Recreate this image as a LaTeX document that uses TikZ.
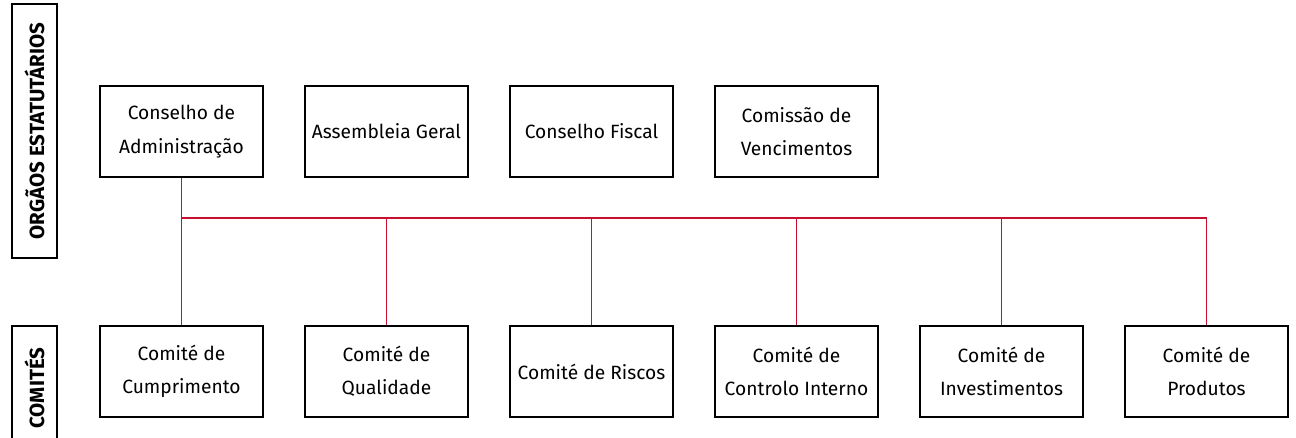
\documentclass[tikz,border=0pt]{standalone}
\usepackage{fontspec}
\setmainfont{Fira Sans}
\definecolor{linered}{HTML}{C8102E}
\begin{document}
\begin{tikzpicture}[x=1pt,y=-1pt,
  orgbox/.style={draw=black,line width=1.3pt,minimum width=163pt,minimum height=91pt,align=center,font=\fontsize{19.2}{33.5}\selectfont,inner sep=0pt},
  sidebox/.style={draw=black,line width=1.3pt},
  sidetext/.style={rotate=90,font=\bfseries\fontsize{20.5}{22}\selectfont},
  conn/.style={draw=linered,line width=1.6pt}]
\useasboundingbox (0,0) rectangle (1296,438);
\clip (0,0) rectangle (1296,438);
% side labels
\draw[sidebox] (12,4) rectangle (57,258);
\node[sidetext] (lab1) at (34.5,131) {ORGÃOS ESTATUTÁRIOS};
\draw[sidebox] (12,326) rectangle (57,450);
\node[sidetext] (lab2) at (34.5,388) {COMITÉS};
% top row
\node[orgbox] (ca) at (181.5,131.5) {Conselho de\\Administração};
\node[orgbox] (ag) at (386.5,131.5) {Assembleia Geral};
\node[orgbox] (cf) at (591.5,131.5) {Conselho Fiscal};
\node[orgbox] (cv) at (796.5,131.5) {Comissão de\\Vencimentos};
% bottom row
\node[orgbox] (c1) at (181.5,371.5) {Comité de\\Cumprimento};
\node[orgbox] (c2) at (386.5,371.5) {Comité de\\Qualidade};
\node[orgbox] (c3) at (591.5,371.5) {Comité de Riscos};
\node[orgbox] (c4) at (796.5,371.5) {Comité de\\Controlo Interno};
\node[orgbox] (c5) at (1001.5,371.5) {Comité de\\Investimentos};
\node[orgbox] (c6) at (1206.5,371.5) {Comité de\\Produtos};
% connectors
\coordinate (bus) at (0,218);
\begin{scope}[xshift=0.5pt]
\draw[conn] (ca.south) -- (c1.north);
\draw[conn] (ca.south |- bus) -| (c6.north);
\draw[conn] (c2.north) -- (c2.north |- bus);
\draw[conn] (c3.north) -- (c3.north |- bus);
\draw[conn] (c4.north) -- (c4.north |- bus);
\draw[conn] (c5.north) -- (c5.north |- bus);
\end{scope}
\end{tikzpicture}
\end{document}
